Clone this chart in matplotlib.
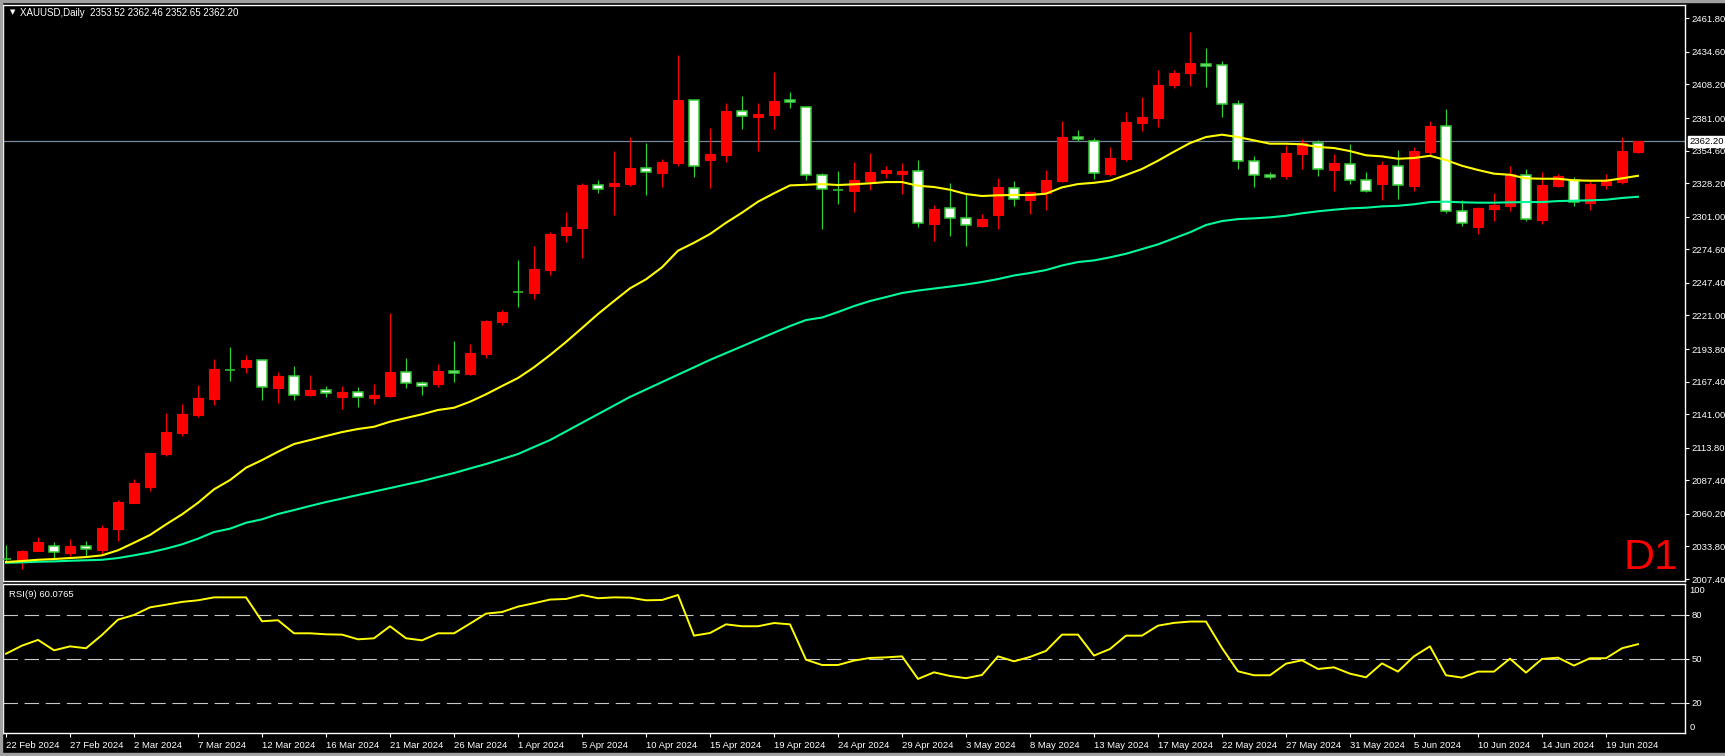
import numpy as np
import matplotlib
matplotlib.use("Agg")
import matplotlib.pyplot as plt

# XAUUSD daily candles (22 Feb 2024 .. 21 Jun 2024)
opens = [2024.0, 2023.0, 2030.3, 2033.9, 2028.7, 2033.9, 2031.1, 2048.2, 2069.2, 2082.2,
         2109.0, 2125.7, 2140.5, 2153.3, 2177.0, 2179.4, 2184.6, 2162.4, 2171.7, 2156.5,
         2160.3, 2154.9, 2158.7, 2154.3, 2155.7, 2174.9, 2166.0, 2165.7, 2175.7, 2173.8,
         2190.0, 2215.9, 2240.2, 2239.4, 2258.1, 2286.4, 2292.1, 2326.4, 2326.1, 2327.7,
         2340.2, 2336.6, 2344.8, 2395.3, 2347.2, 2351.3, 2386.4, 2382.1, 2383.7, 2395.3,
         2389.7, 2334.6, 2323.0, 2322.1, 2330.2, 2336.6, 2335.9, 2337.8, 2295.3, 2307.8,
         2299.7, 2293.7, 2302.4, 2324.5, 2314.8, 2320.5, 2329.9, 2365.4, 2362.1, 2335.9,
         2348.0, 2377.2, 2381.2, 2408.0, 2417.7, 2425.0, 2423.7, 2392.1, 2345.9, 2334.6,
         2334.0, 2352.1, 2360.5, 2339.1, 2344.0, 2330.5, 2327.7, 2342.3, 2326.1, 2353.7,
         2374.3, 2305.4, 2292.9, 2307.5, 2309.9, 2335.1, 2298.6, 2326.1, 2331.0, 2312.4,
         2327.0, 2329.4, 2353.52]
highs = [2035.0, 2030.9, 2041.4, 2037.4, 2039.8, 2038.2, 2051.2, 2071.4, 2088.4, 2109.9,
         2142.0, 2149.2, 2164.6, 2185.7, 2195.4, 2188.9, 2185.0, 2175.2, 2180.0, 2172.7,
         2163.8, 2163.8, 2163.0, 2165.4, 2222.9, 2186.5, 2167.9, 2181.6, 2200.3, 2198.1,
         2217.3, 2225.4, 2265.9, 2277.5, 2288.9, 2304.8, 2328.3, 2330.7, 2354.2, 2365.6,
         2360.7, 2347.8, 2432.0, 2395.6, 2372.9, 2393.1, 2398.8, 2393.1, 2418.3, 2401.9,
         2390.5, 2336.2, 2338.0, 2345.3, 2352.6, 2342.1, 2344.5, 2347.0, 2310.5, 2328.3,
         2319.2, 2302.9, 2332.4, 2329.9, 2322.1, 2338.9, 2378.6, 2371.3, 2364.5, 2357.5,
         2385.9, 2398.0, 2419.9, 2419.6, 2450.7, 2437.7, 2427.2, 2395.6, 2350.2, 2337.2,
         2359.4, 2364.0, 2362.8, 2351.8, 2359.9, 2337.2, 2346.1, 2355.1, 2357.5, 2378.6,
         2388.3, 2314.5, 2309.1, 2320.2, 2342.1, 2339.7, 2337.2, 2335.6, 2333.2, 2329.4,
         2335.6, 2365.6, 2362.46]
lows = [2021.4, 2015.7, 2029.8, 2023.9, 2026.0, 2025.5, 2027.7, 2038.4, 2068.8, 2079.0,
        2107.3, 2123.5, 2138.9, 2148.7, 2168.1, 2174.6, 2152.7, 2150.3, 2152.7, 2155.9,
        2155.1, 2145.2, 2146.8, 2149.2, 2154.9, 2162.4, 2156.5, 2163.0, 2167.1, 2172.7,
        2186.7, 2213.5, 2228.1, 2234.6, 2253.8, 2280.7, 2267.8, 2320.5, 2302.6, 2326.1,
        2318.8, 2325.3, 2342.3, 2333.4, 2324.5, 2345.6, 2372.3, 2354.5, 2372.3, 2389.1,
        2331.0, 2291.3, 2311.5, 2305.1, 2322.9, 2332.6, 2319.6, 2292.9, 2281.6, 2285.6,
        2277.5, 2292.7, 2291.3, 2310.0, 2303.4, 2306.7, 2329.1, 2362.1, 2331.8, 2334.2,
        2346.4, 2370.7, 2373.9, 2405.6, 2407.2, 2406.1, 2382.0, 2339.9, 2325.3, 2331.8,
        2331.8, 2339.7, 2334.2, 2322.1, 2327.7, 2320.8, 2314.8, 2315.6, 2322.1, 2351.0,
        2304.3, 2293.7, 2287.2, 2297.8, 2305.9, 2297.8, 2295.3, 2325.3, 2310.0, 2306.7,
        2323.7, 2327.7, 2352.65]
closes = [2024.0, 2030.1, 2037.4, 2029.0, 2034.1, 2031.5, 2048.7, 2069.8, 2085.2, 2109.5,
          2126.5, 2141.1, 2154.1, 2177.6, 2177.0, 2184.6, 2162.8, 2171.7, 2156.7, 2160.6,
          2157.9, 2158.9, 2154.7, 2156.5, 2175.2, 2166.0, 2163.6, 2176.0, 2174.1, 2190.5,
          2216.5, 2223.8, 2240.2, 2258.6, 2287.0, 2292.7, 2326.7, 2323.2, 2328.3, 2340.5,
          2337.0, 2345.3, 2395.6, 2341.9, 2351.8, 2386.7, 2382.4, 2384.2, 2394.8, 2393.7,
          2334.6, 2323.2, 2323.0, 2330.8, 2337.2, 2338.9, 2338.0, 2295.7, 2307.2, 2299.7,
          2294.0, 2298.9, 2325.1, 2315.1, 2320.8, 2330.8, 2365.6, 2363.7, 2336.2, 2348.4,
          2377.8, 2381.8, 2407.7, 2417.5, 2425.3, 2423.4, 2392.1, 2345.9, 2334.6, 2333.0,
          2352.6, 2360.5, 2339.4, 2344.3, 2330.5, 2321.6, 2342.7, 2326.4, 2354.2, 2374.5,
          2305.4, 2295.7, 2308.1, 2310.5, 2335.4, 2298.9, 2326.4, 2333.7, 2312.7, 2327.5,
          2330.0, 2354.2, 2362.20]

# moving averages as drawn on the chart
ma_yellow = [2021.2, 2022.0, 2023.0, 2023.6, 2024.4, 2025.2, 2026.6, 2030.7, 2036.8, 2043.1,
             2051.7, 2059.8, 2069.2, 2080.1, 2087.6, 2097.6, 2103.8, 2110.6, 2116.8, 2120.0,
             2123.3, 2126.5, 2129.0, 2130.8, 2134.9, 2137.9, 2140.9, 2144.4, 2146.2, 2151.1,
             2157.1, 2163.8, 2170.3, 2179.0, 2188.9, 2199.5, 2210.8, 2222.2, 2232.7, 2243.0,
             2250.3, 2260.0, 2273.5, 2279.9, 2287.0, 2296.1, 2304.3, 2313.2, 2320.0, 2326.4,
             2326.9, 2327.5, 2326.7, 2327.3, 2328.1, 2329.1, 2329.1, 2326.1, 2325.1, 2322.9,
             2319.4, 2317.8, 2318.4, 2318.6, 2318.6, 2319.7, 2324.8, 2327.5, 2328.5, 2330.2,
             2334.8, 2339.7, 2346.4, 2353.7, 2360.7, 2365.6, 2367.5, 2365.6, 2362.9, 2360.2,
             2360.2, 2359.7, 2357.5, 2356.7, 2354.2, 2350.8, 2349.9, 2348.0, 2348.6, 2350.4,
             2346.9, 2342.3, 2338.9, 2335.9, 2335.0, 2332.1, 2331.8, 2331.8, 2330.5, 2330.2,
             2330.2, 2332.1, 2334.2]
ma_green = [2020.6, 2020.9, 2021.4, 2021.7, 2022.2, 2022.6, 2023.0, 2024.4, 2026.6, 2029.0,
            2032.0, 2035.5, 2040.1, 2045.5, 2048.2, 2053.0, 2055.8, 2060.1, 2063.3, 2066.6,
            2069.8, 2072.6, 2075.5, 2078.3, 2081.1, 2084.0, 2086.8, 2090.1, 2093.3, 2097.0,
            2100.6, 2104.6, 2108.7, 2114.4, 2120.0, 2127.0, 2134.0, 2141.0, 2148.0, 2155.0,
            2161.0, 2167.0, 2173.0, 2179.0, 2185.0, 2190.5, 2196.0, 2201.5, 2207.0, 2212.4,
            2217.3, 2219.3, 2223.8, 2228.6, 2232.7, 2235.9, 2239.2, 2241.2, 2242.8, 2244.4,
            2246.1, 2248.1, 2250.5, 2253.4, 2255.4, 2257.8, 2261.5, 2264.3, 2265.6, 2268.1,
            2271.0, 2274.8, 2278.6, 2283.5, 2288.4, 2294.3, 2297.5, 2299.1, 2299.7, 2300.5,
            2301.8, 2303.8, 2305.4, 2306.7, 2307.8, 2308.3, 2309.4, 2309.9, 2311.1, 2312.9,
            2313.2, 2312.7, 2312.4, 2312.4, 2312.7, 2312.9, 2312.9, 2313.7, 2314.0, 2314.3,
            2314.8, 2316.2, 2317.2]

rsi = [53.6, 59.1, 63.0, 55.9, 58.6, 57.3, 66.4, 76.8, 80.0, 85.2,
       87.0, 88.9, 90.0, 92.0, 92.0, 92.0, 75.7, 76.4, 67.5, 67.5,
       66.8, 66.6, 63.4, 64.1, 72.3, 64.1, 62.7, 67.5, 67.5, 74.1,
       80.9, 82.0, 85.7, 88.0, 90.5, 90.9, 93.6, 91.4, 92.0, 91.8,
       90.0, 90.2, 93.6, 65.9, 67.7, 73.6, 72.3, 72.3, 74.5, 73.6,
       49.5, 45.9, 45.9, 48.9, 50.7, 51.1, 51.8, 36.4, 40.9, 38.4,
       36.9, 39.1, 51.8, 48.4, 51.4, 55.5, 66.6, 66.6, 52.3, 56.8,
       65.9, 65.9, 72.7, 74.6, 75.5, 75.5, 57.5, 41.6, 38.9, 38.9,
       46.8, 49.1, 43.2, 44.3, 40.0, 37.5, 47.0, 41.4, 51.8, 58.6,
       38.9, 37.3, 41.4, 41.4, 50.2, 40.7, 50.0, 50.9, 45.5, 50.5,
       50.5, 57.3, 60.08]

price_ticks = [2461.80, 2434.60, 2408.20, 2381.00, 2354.60, 2328.20, 2301.00, 2274.60,
               2247.40, 2221.00, 2193.80, 2167.40, 2141.00, 2113.80, 2087.40, 2060.20,
               2033.80, 2007.40]
date_labels = ["22 Feb 2024", "27 Feb 2024", "2 Mar 2024", "7 Mar 2024", "12 Mar 2024",
               "16 Mar 2024", "21 Mar 2024", "26 Mar 2024", "1 Apr 2024", "5 Apr 2024",
               "10 Apr 2024", "15 Apr 2024", "19 Apr 2024", "24 Apr 2024", "29 Apr 2024",
               "3 May 2024", "8 May 2024", "13 May 2024", "17 May 2024", "22 May 2024",
               "27 May 2024", "31 May 2024", "5 Jun 2024", "10 Jun 2024", "14 Jun 2024",
               "19 Jun 2024"]
last_price = 2362.20

W, H = 1725, 756
plt.rcParams['font.family'] = ["Liberation Sans", 'DejaVu Sans']

fig = plt.figure(figsize=(W / 100, H / 100), dpi=100, facecolor="black")

def box(x0, y0, x1, y1):
    # pixel box (top-left origin) -> figure fraction rect
    return [x0 / W, 1 - y1 / H, (x1 - x0) / W, (y1 - y0) / H]

# grey window frame around the chart
for r in (box(0, 0, W, 2), box(0, 0, 2, H), box(0, H - 3, W, H)):
    fig.patches.append(plt.Rectangle((r[0], r[1]), r[2], r[3], transform=fig.transFigure,
                                     color="#a0a0a0", zorder=0))

ax = fig.add_axes(box(3, 5, 1685, 581))
ax2 = fig.add_axes(box(3, 584, 1685, 733))

n = len(closes)
x = np.arange(n)
o = np.array(opens); c = np.array(closes)
hi = np.array(highs); lo = np.array(lows)
up = c > o

bull_col = "#ff0000"
bear_col = "#32cd32"

for a in (ax, ax2):
    a.set_facecolor("black")
    for s in a.spines.values():
        s.set_color("white")
        s.set_linewidth(1.0)
    a.set_xlim(-0.19, 104.94)

# wicks
ax.vlines(x[up], lo[up], hi[up], color=bull_col, lw=0.9, zorder=2)
ax.vlines(x[~up], lo[~up], hi[~up], color=bear_col, lw=0.9, zorder=2)
# bodies
w = 0.68
ax.bar(x[up], c[up] - o[up], bottom=o[up], width=w, color=bull_col,
       edgecolor=bull_col, lw=0.8, zorder=3)
ax.bar(x[~up], o[~up] - c[~up], bottom=c[~up], width=w, color="white",
       edgecolor=bear_col, lw=1.1, zorder=3)

ax.plot(x, ma_green, color="#00fa9a", lw=1.5, zorder=4)
ax.plot(x, ma_yellow, color="#ffff00", lw=1.5, zorder=4)
ax.axhline(last_price, color="#778899", lw=0.9, zorder=1)

ax.set_ylim(2005.8, 2472.6)
ax.set_yticks(price_ticks)
ax.set_yticklabels([f"{v:.2f}" for v in price_ticks])
ax.yaxis.tick_right()
ax.tick_params(axis="y", colors="white", labelsize=6.8, length=3, width=0.8, pad=1.5)
ax.set_xticks([])

# current price label on the axis
ax.annotate(f"{last_price:.2f}", xy=(1.0, last_price), xycoords=("axes fraction", "data"),
            xytext=(3, 0), textcoords="offset points", va="center", ha="left",
            fontsize=6.8, color="black",
            bbox=dict(boxstyle="square,pad=0.12", fc="white", ec="white"))

# timeframe watermark
fig.text(1678 / W, 1 - 569 / H, "D1", ha="right", va="baseline",
         color="#ff0000", fontsize=31)

fig.text(10 / W, 1 - 12.5 / H, "\u25bc", color="white", fontsize=5, va="center",
         family="DejaVu Sans")
fig.text(20 / W, 1 - 12.5 / H, "XAUUSD,Daily  2353.52 2362.46 2352.65 2362.20",
         color="white", fontsize=7, va="center")

# RSI panel
ax2.plot(x, rsi, color="#ffff00", lw=1.4, zorder=3)
for lvl in (80, 50, 20):
    ax2.axhline(lvl, color="#c8c8c8", lw=0.8, dashes=(13, 6), zorder=1)
ax2.set_ylim(-0.45, 101.1)
ax2.set_yticks([80, 50, 20])
ax2.yaxis.tick_right()
ax2.tick_params(axis="y", colors="white", labelsize=6.8, length=3, width=0.8, pad=1.5)
ax2.annotate("100", xy=(1.0, 97.0), xycoords=("axes fraction", "data"), xytext=(3, 0),
             textcoords="offset points", color="white", fontsize=6.8, va="center")
ax2.annotate("0", xy=(1.0, 3.5), xycoords=("axes fraction", "data"), xytext=(3, 0),
             textcoords="offset points", color="white", fontsize=6.8, va="center")
ax2.text(0.0035, 0.93, "RSI(9) 60.0765", transform=ax2.transAxes, color="white",
         fontsize=6.8, va="center", ha="left")

ax2.set_xticks(np.arange(0, len(date_labels) * 4, 4))
ax2.set_xticklabels(date_labels)
ax2.tick_params(axis="x", colors="white", labelsize=6.8, length=3, width=0.8, pad=2.5)
for lab in ax2.get_xticklabels():
    lab.set_horizontalalignment("left")

fig.savefig("out.png", dpi=100, facecolor="black")
